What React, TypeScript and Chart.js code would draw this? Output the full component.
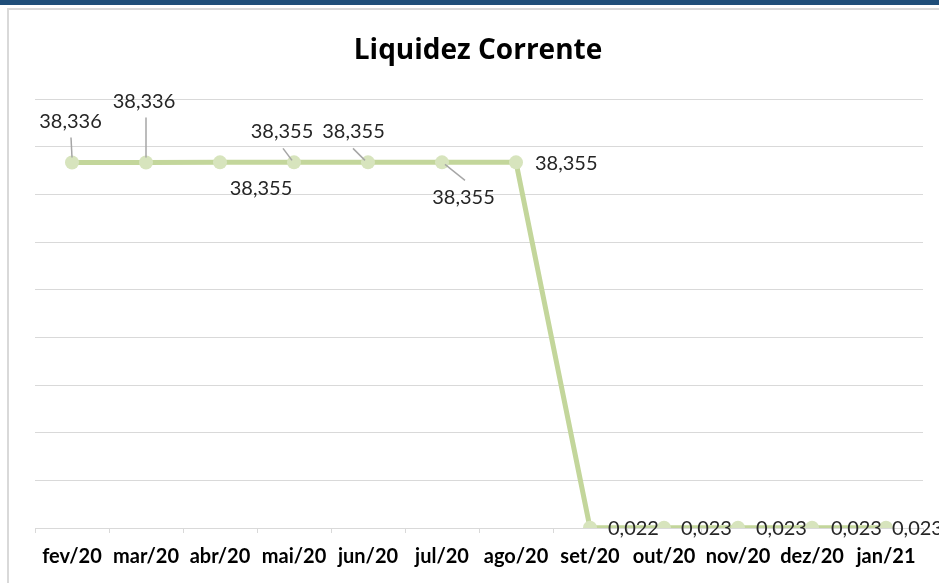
import React, { useEffect, useRef } from "react";
import { Chart, registerables } from "chart.js";

Chart.register(...registerables);

const title = "Liquidez Corrente";
const categories = ["fev/20", "mar/20", "abr/20", "mai/20", "jun/20", "jul/20", "ago/20", "set/20", "out/20", "nov/20", "dez/20", "jan/21"];
const values = [38.336, 38.336, 38.355, 38.355, 38.355, 38.355, 38.355, 0.022, 0.023, 0.023, 0.023, 0.023];
const valueLabels = values.map((v) => v.toFixed(3).replace(".", ","));
const yMin = 0;
const yMax = 45;
const yStep = 5;

// label placement styles (relative to each point), Excel-like manual positions
type LabelStyle = { dx: number; dy: number; align?: CanvasTextAlign; lead?: [number, number, number, number] };
const labelStyles: LabelStyle[] = [
  { dx: -1.5, dy: -41, lead: [-1, -25, 0, -5] },
  { dx: -2, dy: -61, lead: [0, -45, 0, -5] },
  { dx: 41, dy: 26 },
  { dx: -12, dy: -31, lead: [-11, -14, -2, -2] },
  { dx: -14.5, dy: -31, lead: [-15, -14, -3, -2] },
  { dx: 21.5, dy: 35, lead: [3, 2, 23, 18] },
  { dx: 19, dy: 1, align: "left" },
  { dx: 18, dy: 1, align: "left" },
  { dx: 17, dy: 1, align: "left" },
  { dx: 18, dy: 1, align: "left" },
  { dx: 19, dy: 1, align: "left" },
  { dx: 6, dy: 1, align: "left" },
];

const FONT = "Lato, Calibri, 'Open Sans', sans-serif";
const TITLE_FONT = "'Open Sans', Lato, sans-serif";

const decorPlugin = {
  id: "decor",
  beforeDraw(chart: any) {
    const { ctx } = chart;
    ctx.save();
    ctx.font = `bold 28px ${TITLE_FONT}`;
    ctx.fillStyle = "#000000";
    ctx.textAlign = "center";
    ctx.textBaseline = "alphabetic";
    ctx.fillText(title, 478, 59);
    ctx.restore();
  },
  afterDatasetsDraw(chart: any) {
    const { ctx } = chart;
    const meta = chart.getDatasetMeta(0);
    ctx.save();
    meta.data.forEach((pt: any, i: number) => {
      const s = labelStyles[i] || { dx: 18, dy: 0, align: "left" };
      const x = pt.x;
      const y = pt.y;
      if (s.lead) {
        ctx.strokeStyle = "#a6a6a6";
        ctx.lineWidth = 1.5;
        ctx.beginPath();
        ctx.moveTo(x + s.lead[0], y + s.lead[1]);
        ctx.lineTo(x + s.lead[2], y + s.lead[3]);
        ctx.stroke();
      }
      ctx.font = `20px ${FONT}`;
      ctx.fillStyle = "#262626";
      ctx.textAlign = s.align || "center";
      ctx.textBaseline = "middle";
      ctx.fillText(valueLabels[i], x + s.dx, y + s.dy);
    });
    ctx.restore();
  },
};

export default function App() {
  const ref = useRef<HTMLCanvasElement | null>(null);

  useEffect(() => {
    let chart: Chart | null = null;
    let cancelled = false;
    const make = () => {
      if (cancelled || !ref.current) return;
      chart = new Chart(ref.current, {
        type: "line",
        data: {
          labels: categories,
          datasets: [
            {
              data: values,
              borderColor: "#c3d69b",
              borderWidth: 5,
              backgroundColor: "#d7e4bd",
              pointBackgroundColor: "#d7e4bd",
              pointBorderColor: "#d7e4bd",
              pointRadius: 7,
              pointBorderWidth: 0,
              tension: 0,
              fill: false,
            },
          ],
        },
        options: {
          responsive: false,
          animation: false,
          devicePixelRatio: 1,
          layout: { padding: { left: 35, right: 16, top: 99, bottom: 0 } },
          plugins: {
            legend: { display: false },
            title: { display: false },
            tooltip: { enabled: false },
          },
          scales: {
            x: {
              offset: true,
              grid: {
                offset: true,
                drawOnChartArea: false,
                drawTicks: true,
                tickLength: 5,
                color: "#d9d9d9",
              },
              border: { display: true, color: "#d9d9d9", width: 1 },
              ticks: {
                padding: 12,
                color: "#000000",
                font: { family: FONT, size: 20, weight: "bold" },
                maxRotation: 0,
                autoSkip: false,
              },
              afterFit: (scale: any) => {
                scale.height = 55;
              },
            },
            y: {
              min: yMin,
              max: yMax,
              ticks: { stepSize: yStep, display: false },
              grid: { drawTicks: false, color: "#d9d9d9", lineWidth: 1 },
              border: { display: false },
              afterFit: (scale: any) => {
                scale.width = 0;
              },
            },
          },
        },
        plugins: [decorPlugin],
      });
    };
    const fontsApi: any = (document as any).fonts;
    if (fontsApi && fontsApi.load) {
      Promise.all([
        fontsApi.load(`bold 28px 'Open Sans'`),
        fontsApi.load(`bold 20px Lato`),
        fontsApi.load(`20px Lato`),
      ])
        .catch(() => null)
        .then(make);
    } else {
      make();
    }
    return () => {
      cancelled = true;
      if (chart) chart.destroy();
    };
  }, []);

  return (
    <div
      style={{
        position: "fixed",
        left: 0,
        top: 0,
        width: 939,
        height: 583,
        overflow: "hidden",
        background: "#ffffff",
      }}
    >
      <div style={{ position: "absolute", left: 0, top: 0, width: 939, height: 5, background: "#1f4e79" }} />
      <div
        style={{
          position: "absolute",
          left: 7,
          top: 8,
          width: 960,
          height: 600,
          border: "2px solid #d9d9d9",
          boxSizing: "border-box",
        }}
      />
      <canvas
        ref={ref}
        width={939}
        height={583}
        style={{ position: "absolute", left: 0, top: 0, width: 939, height: 583 }}
      />
    </div>
  );
}
